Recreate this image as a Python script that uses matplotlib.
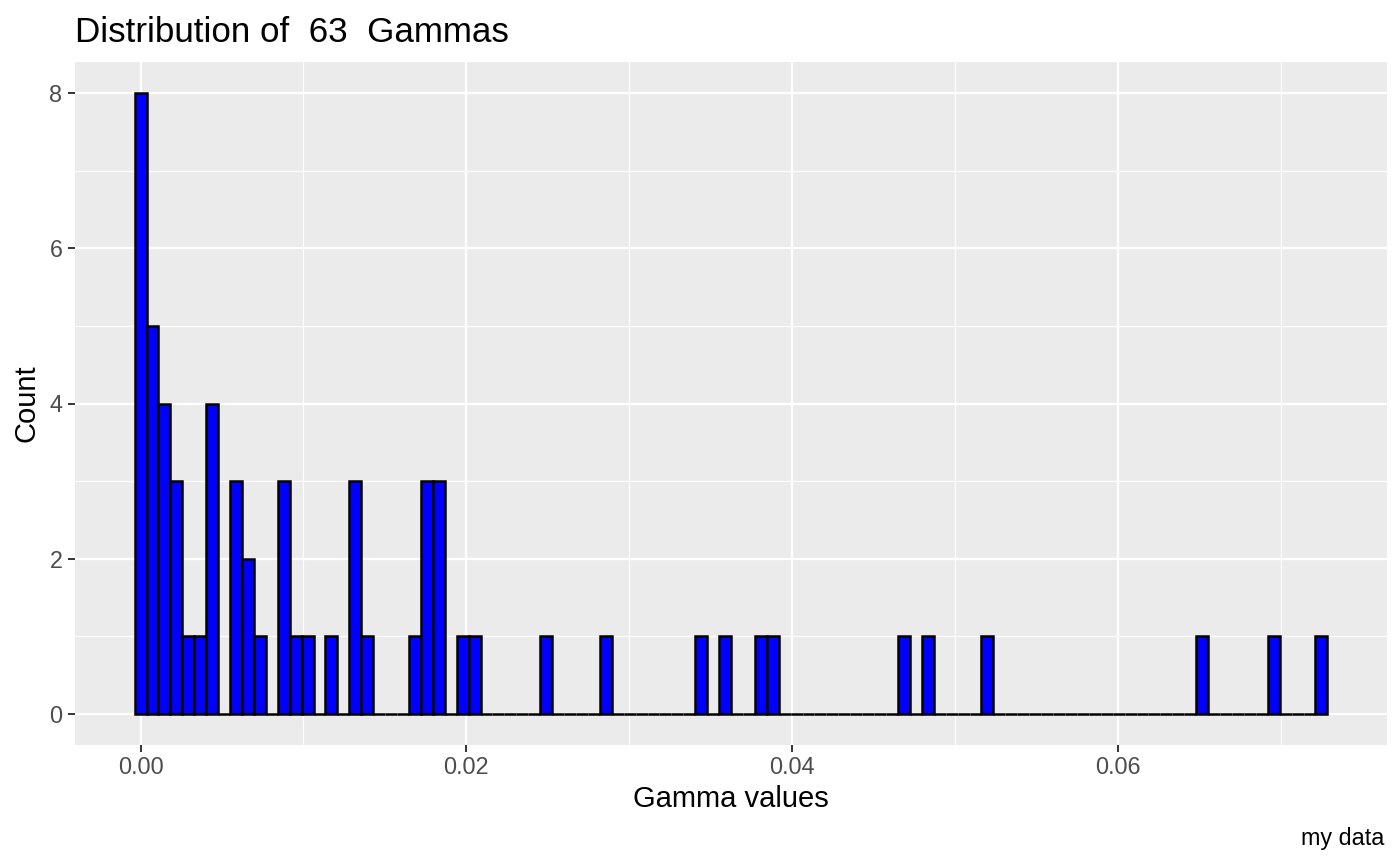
import matplotlib.pyplot as plt
import numpy as np

# histogram of 63 gamma values, 100 bins (ggplot-style: first/last bins centred on min/max)
gamma_min = 0.0
gamma_max = 0.0725
n_bins = 100

# non-empty bins (index -> count), everything else is 0
bin_index = [0, 1, 2, 3, 4, 5, 6, 8, 9, 10, 12, 13, 14, 16, 18, 19,
             23, 24, 25, 27, 28, 34, 39, 47, 49, 52, 53, 64, 66, 71, 89, 95, 99]
bin_count = [8, 5, 4, 3, 1, 1, 4, 3, 2, 1, 3, 1, 1, 1, 3, 1,
             1, 3, 3, 1, 1, 1, 1, 1, 1, 1, 1, 1, 1, 1, 1, 1, 1]

x_ticks = [0.00, 0.02, 0.04, 0.06]
x_tick_labels = ["0.00", "0.02", "0.04", "0.06"]
y_ticks = [0, 2, 4, 6, 8]

counts = np.zeros(n_bins)
counts[bin_index] = bin_count
width = (gamma_max - gamma_min) / (n_bins - 1)
lefts = gamma_min - width / 2 + width * np.arange(n_bins)

plt.rcParams['font.family'] = ['Liberation Sans', 'DejaVu Sans']

W, H = 1400, 866
fig = plt.figure(figsize=(W / 100, H / 100), dpi=100)
ax = fig.add_axes([75 / W, 121 / H, 1312 / W, 683 / H])
ax.set_facecolor('#EBEBEB')

ax.bar(lefts, counts, width=width, align='edge', color='#0000FF',
       edgecolor='black', linewidth=1.8, zorder=3)

x0, x1 = lefts[0], lefts[-1] + width
pad = 0.05 * (x1 - x0)
ax.set_xlim(x0 - pad, x1 + pad)
ax.set_ylim(-0.4, 8.4)

ax.set_xticks(x_ticks)
ax.set_xticklabels(x_tick_labels)
ax.set_xticks([0.01, 0.03, 0.05, 0.07], minor=True)
ax.set_yticks(y_ticks)
ax.set_yticks([1, 3, 5, 7], minor=True)
ax.grid(which='major', color='white', linewidth=1.6, zorder=0)
ax.grid(which='minor', color='white', linewidth=0.8, zorder=0)
ax.set_axisbelow(True)
ax.tick_params(which='major', length=5, width=1.4, color='#333333',
               labelcolor='#4D4D4D', labelsize=16.8, pad=3)
ax.tick_params(axis='y', which='major', pad=4)
ax.tick_params(which='minor', length=0)
for s in ax.spines.values():
    s.set_visible(False)

ax.set_xlabel('Gamma values', fontsize=21)
ax.xaxis.set_label_coords(731 / W, 1 - 807 / H, transform=fig.transFigure)
ax.xaxis.label.set_va('baseline')
ax.set_ylabel('Count', fontsize=21)
ax.yaxis.set_label_coords(26 / W, 1 - 403.5 / H, transform=fig.transFigure)
ax.yaxis.label.set_va('center')

fig.text(75 / W, 1 - 42 / H, 'Distribution of  63  Gammas', fontsize=25.2,
         ha='left', va='baseline')
fig.text(1384 / W, 1 - 845 / H, 'my data', fontsize=16.8, ha='right', va='baseline')

fig.savefig('out.png', dpi=100)
